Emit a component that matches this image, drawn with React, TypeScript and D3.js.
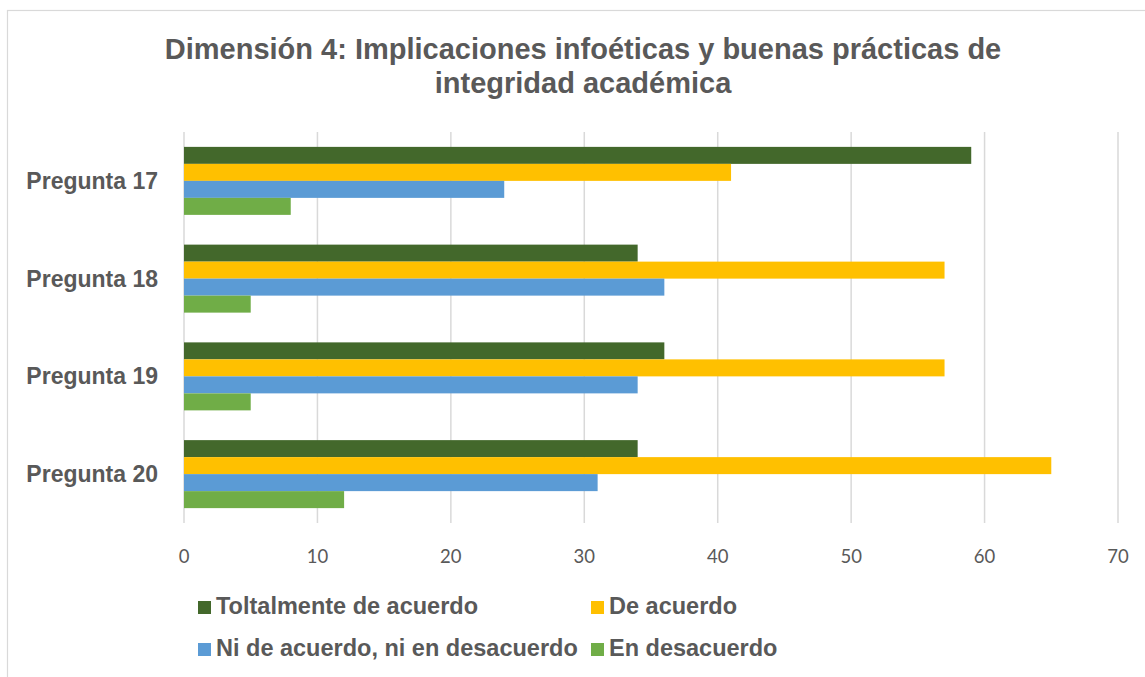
import React from "react";
import * as d3 from "d3";

const categories = ["Pregunta 17", "Pregunta 18", "Pregunta 19", "Pregunta 20"];
const seriesNames = [
  "Toltalmente de acuerdo",
  "De acuerdo",
  "Ni de acuerdo, ni en desacuerdo",
  "En desacuerdo",
];
const totalmente = [59, 34, 36, 34];
const deAcuerdo = [41, 57, 57, 65];
const niNi = [24, 36, 34, 31];
const desacuerdo = [8, 5, 5, 12];
const seriesValues = [totalmente, deAcuerdo, niNi, desacuerdo];
const seriesColors = ["#43682B", "#FFC000", "#5B9BD5", "#70AD47"];
const xTicks = [0, 10, 20, 30, 40, 50, 60, 70];
const titleLines = [
  "Dimensión 4: Implicaciones infoéticas y buenas prácticas de",
  "integridad académica",
];

const W = 1145;
const H = 677;
const textColor = "#595959";
const boldFont = "'Liberation Sans', Arial, sans-serif";

export default function App() {
  const x = d3.scaleLinear().domain([0, 70]).range([184, 1118]);
  const y = d3
    .scaleBand<string>()
    .domain(categories)
    .range([132, 523])
    .paddingInner(1 - 68 / 97.75)
    .paddingOuter((1 - 68 / 97.75) / 2);
  const ys = d3
    .scaleBand<string>()
    .domain(seriesNames)
    .range([0, y.bandwidth()]);

  const legendItems = [
    { name: seriesNames[0], color: seriesColors[0], x: 198, y: 601 },
    { name: seriesNames[1], color: seriesColors[1], x: 591, y: 601 },
    { name: seriesNames[2], color: seriesColors[2], x: 198, y: 643 },
    { name: seriesNames[3], color: seriesColors[3], x: 591, y: 643 },
  ];

  return (
    <svg
      width={W}
      height={H}
      style={{ position: "absolute", left: 0, top: 0, background: "#fff" }}
    >
      <rect x={7.5} y={10.5} width={1200} height={700} fill="#fff" stroke="#D9D9D9" strokeWidth={1.2} />
      {titleLines.map((t, i) => (
        <text
          key={i}
          x={583}
          y={59 + i * 34}
          textAnchor="middle"
          fontFamily={boldFont}
          fontWeight="bold"
          fontSize={29}
          fill={textColor}
        >
          {t}
        </text>
      ))}
      {xTicks.map((t) => (
        <g key={t}>
          <line x1={x(t)} x2={x(t)} y1={132} y2={523} stroke="#D9D9D9" strokeWidth={1.5} />
          <text
            x={x(t)}
            y={563}
            textAnchor="middle"
            fontFamily="Lato, 'Liberation Sans', sans-serif"
            fontSize={18.5}
            fill={textColor}
          >
            {t}
          </text>
        </g>
      ))}
      {categories.map((c, ci) => (
        <g key={c}>
          {seriesNames.map((s, si) => (
            <rect
              key={s}
              x={x(0)}
              y={(y(c) as number) + (ys(s) as number)}
              width={x(seriesValues[si][ci]) - x(0)}
              height={ys.bandwidth()}
              fill={seriesColors[si]}
            />
          ))}
          <text
            x={158}
            y={(y(c) as number) + y.bandwidth() / 2}
            dy="0.35em"
            textAnchor="end"
            fontFamily={boldFont}
            fontWeight="bold"
            fontSize={23}
            fill={textColor}
          >
            {c}
          </text>
        </g>
      ))}
      {legendItems.map((l) => (
        <g key={l.name}>
          <rect x={l.x} y={l.y} width={13} height={13} fill={l.color} />
          <text
            x={l.x + 18}
            y={l.y + 13}
            fontFamily={boldFont}
            fontWeight="bold"
            fontSize={23.5}
            fill={textColor}
          >
            {l.name}
          </text>
        </g>
      ))}
    </svg>
  );
}
